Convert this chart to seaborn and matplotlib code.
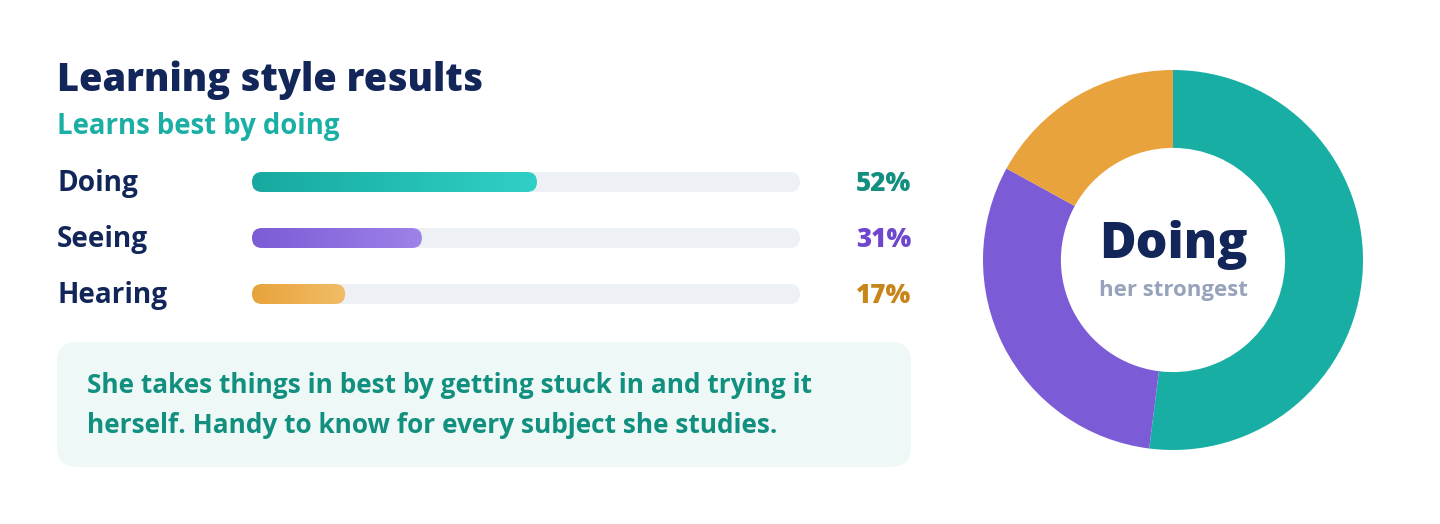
import numpy as np
import pandas as pd
import matplotlib
matplotlib.use("Agg")
import matplotlib.pyplot as plt
import seaborn as sns
from matplotlib.patches import FancyBboxPatch
from matplotlib.colors import LinearSegmentedColormap

# datos
categories = ["Doing", "Seeing", "Hearing"]
scores = [52, 31, 17]
pct_labels = ["52%", "31%", "17%"]
bar_from = ["#17a99f", "#7b5cd6", "#e8a33a"]
bar_to = ["#30d0c6", "#9d82e8", "#f1bd69"]
pct_colors = ["#138f80", "#6f47cf", "#c7861a"]
donut_colors = ["#19aea3", "#7c5cd6", "#e8a33c"]

NAVY = "#13265a"
TEAL = "#1aafa5"
TRACK = "#edf0f5"
FONT = "Open Sans"

sns.set_theme(style="white")
plt.rcParams["font.family"] = [FONT, "DejaVu Sans"]

W, H = 1440, 524
fig = plt.figure(figsize=(W / 100, H / 100), dpi=100)
fig.patch.set_facecolor("white")

# capa de fondo en pixeles
bg = fig.add_axes([0, 0, 1, 1])
bg.set_xlim(0, W)
bg.set_ylim(H, 0)
bg.axis("off")

bg.text(57, 91, "Learning style results", fontsize=27.4, fontweight="heavy",
        color=NAVY, va="baseline")
bg.text(57, 134, "Learns best by doing", fontsize=19.8, fontweight="bold",
        color=TEAL, va="baseline")

# caja del comentario
box = FancyBboxPatch((57, 342), 854, 125, boxstyle="round,pad=0,rounding_size=20",
                     facecolor="#eef8f6", edgecolor="none")
bg.add_patch(box)
bg.text(87, 393, "She takes things in best by getting stuck in and trying it",
        fontsize=18.9, fontweight="bold", color="#12907f", va="baseline")
bg.text(87, 433, "herself. Handy to know for every subject she studies.",
        fontsize=18.9, fontweight="bold", color="#12907f", va="baseline")

# barras
x0, x1 = 252, 800
y_top, y_bot = 154, 322
ax = fig.add_axes([x0 / W, 1 - y_bot / H, (x1 - x0) / W, (y_bot - y_top) / H])
df = pd.DataFrame({"style": categories, "score": scores})
sns.barplot(data=df, x="score", y="style", orient="h", ax=ax, width=20 / 56)

px_x = 100 / (x1 - x0)
px_y = 1 / 56
aspect = px_y / px_x
rad = 10 * px_x

for i, p in enumerate(list(ax.patches)):
    y0 = p.get_y()
    h = p.get_height()
    w = p.get_width()
    p.remove()
    track = FancyBboxPatch((0, y0), 100, h, boxstyle=f"round,pad=0,rounding_size={rad}",
                           mutation_aspect=aspect, facecolor=TRACK, edgecolor="none", zorder=1)
    ax.add_patch(track)
    fill = FancyBboxPatch((0, y0), w, h, boxstyle=f"round,pad=0,rounding_size={rad}",
                          mutation_aspect=aspect, facecolor="none", edgecolor="none", zorder=2)
    ax.add_patch(fill)
    cmap = LinearSegmentedColormap.from_list(f"g{i}", [bar_from[i], bar_to[i]])
    grad = np.linspace(0, 1, 256).reshape(1, -1)
    im = ax.imshow(grad, extent=[0, w, y0 + h, y0], aspect="auto", cmap=cmap,
                   zorder=3, interpolation="bilinear")
    im.set_clip_path(fill)

ax.set_xlim(0, 100)
ax.set_ylim(2.5, -0.5)
ax.axis("off")

for i, cat in enumerate(categories):
    yc = 182 + 56 * i
    bg.text(57, yc + 9, cat, fontsize=20.2, fontweight="bold", color=NAVY, va="baseline")
    bg.text(911, yc + 9, pct_labels[i], fontsize=18.7, fontweight="heavy",
            color=pct_colors[i], va="baseline", ha="right")

# dona
cx, cy, r = 1173, 260, 190
pax = fig.add_axes([(cx - r) / W, 1 - (cy + r) / H, 2 * r / W, 2 * r / H])
pax.pie(scores, colors=donut_colors, startangle=90, counterclock=False,
        wedgeprops=dict(width=0.41, edgecolor="none"), radius=1)
pax.set_xlim(-1, 1)
pax.set_ylim(-1, 1)
pax.set_aspect("equal")
pax.axis("off")

bg.text(cx, 258, "Doing", fontsize=36, fontweight="heavy", color=NAVY,
        ha="center", va="baseline")
bg.text(cx, 296, "her strongest", fontsize=16, fontweight="bold", color="#97a3bb",
        ha="center", va="baseline")

fig.savefig("out.png", dpi=100, facecolor="white")
